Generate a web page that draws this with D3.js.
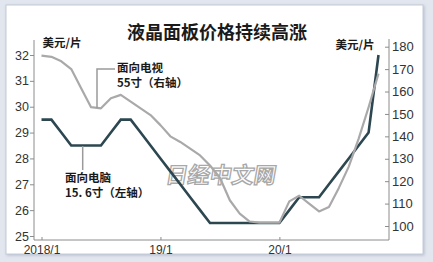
<!DOCTYPE html>
<html>
<head>
<meta charset="utf-8">
<script src="https://cdn.jsdelivr.net/npm/d3@7"></script>
<style>
  body { margin: 0; background: #e2e7ef; }
  svg { display: block; }
</style>
</head>
<body>
<div id="chart"></div>
<script>
// monthly categories
const months = [
  "2018/1","2018/2","2018/3","2018/4","2018/5","2018/6","2018/7","2018/8","2018/9","2018/10","2018/11","2018/12",
  "2019/1","2019/2","2019/3","2019/4","2019/5","2019/6","2019/7","2019/8","2019/9","2019/10","2019/11","2019/12",
  "2020/1","2020/2","2020/3","2020/4","2020/5","2020/6","2020/7","2020/8","2020/9","2020/10","2020/11"
];
// 15.6 inch notebook panel, USD (left axis)
const pcPanel = [
  29.5, 29.5, 29, 28.5, 28.5, 28.5, 28.5, 29, 29.5, 29.5, 29, 28.5,
  28, 27.5, 27, 26.5, 26, 25.5, 25.5, 25.5, 25.5, 25.5, 25.5, 25.5,
  25.5, 26, 26.5, 26.5, 26.5, 27, 27.5, 28, 28.5, 29, 32
];
// 55 inch TV panel, USD (right axis)
const tvPanel = [
  176, 175.5, 173.5, 170, 161.5, 153, 152.5, 157, 158.5, 155.5, 152.5, 149.5,
  145, 140, 137.5, 134.5, 131.5, 127, 121.5, 111.5, 105.5, 102, 101.5, 101.5,
  101.5, 111, 113.5, 110, 106.5, 108.5, 117, 126.5, 139, 153, 168
];
const leftTicks = [25, 26, 27, 28, 29, 30, 31, 32];
const rightTicks = [100, 110, 120, 130, 140, 150, 160, 170, 180];
const xTicks = ["2018/1", "2019/1", "2020/1"];
const xTickLabels = ["2018/1", "19/1", "20/1"];

let svgWidth = 433;
let svgHeight = 262;
const numFont = "'Liberation Sans', Arial, 'Noto Sans CJK SC', sans-serif";
const cjkFont = "'Noto Sans CJK SC', 'Liberation Sans', sans-serif";

let svg = d3.select("#chart")
  .append("svg")
  .attr("width", svgWidth)
  .attr("height", svgHeight);

// panel with soft shadow
let defs = svg.append("defs");
let f = defs.append("filter").attr("id", "shadow")
  .attr("x", "-5%").attr("y", "-5%").attr("width", "110%").attr("height", "110%");
f.append("feDropShadow").attr("dx", 1).attr("dy", 1).attr("stdDeviation", 1.5)
  .attr("flood-color", "#8a96aa").attr("flood-opacity", 0.5);

svg.append("rect")
  .attr("x", 6).attr("y", 5)
  .attr("width", 417).attr("height", 249)
  .attr("fill", "#ffffff")
  .attr("stroke", "#c4ccd8")
  .attr("filter", "url(#shadow)");

// scales
let x = d3.scalePoint().domain(months).range([41.5, 378.5]);
let yLeft = d3.scaleLinear().domain([25, 32]).range([236, 55]);
let yRight = d3.scaleLinear().domain([100, 180]).range([226, 46.7]);

const axisColor = "#8c8c8c";

// frame lines
svg.append("line").attr("x1", 34).attr("x2", 34).attr("y1", 40).attr("y2", 240)
  .attr("stroke", axisColor);
svg.append("line").attr("x1", 389).attr("x2", 389).attr("y1", 39).attr("y2", 240)
  .attr("stroke", axisColor);
svg.append("line").attr("x1", 34).attr("x2", 389).attr("y1", 240).attr("y2", 240)
  .attr("stroke", axisColor);

// axes
let leftAxis = d3.axisLeft(yLeft).tickValues(leftTicks).tickSize(4).tickPadding(1)
  .tickFormat(d3.format("d"));
let rightAxis = d3.axisRight(yRight).tickValues(rightTicks).tickSize(-4).tickPadding(3)
  .tickFormat(d3.format("d"));
let bottomAxis = d3.axisBottom(x).tickValues(xTicks).tickSize(-3).tickPadding(5.5)
  .tickFormat((d, i) => xTickLabels[i]);

function styleAxis(g, size) {
  g.select(".domain").remove();
  g.selectAll("line").attr("stroke", axisColor);
  g.selectAll("text")
    .attr("fill", "#333")
    .style("font-family", numFont)
    .style("font-size", size + "px");
}

svg.append("g").attr("transform", "translate(34,0)").call(leftAxis).call(styleAxis, 12.5);
svg.append("g").attr("transform", "translate(389,0)").call(rightAxis).call(styleAxis, 13);
svg.append("g").attr("transform", "translate(0,240)").call(bottomAxis).call(styleAxis, 12);

// watermark
svg.append("text")
  .attr("x", 220).attr("y", 183)
  .attr("text-anchor", "middle")
  .attr("transform", "translate(32,0) skewX(-10)")
  .attr("fill", "#ffffff")
  .attr("stroke", "#a8a8a8")
  .attr("stroke-width", 1.3)
  .style("font-family", cjkFont)
  .style("font-weight", "bold")
  .style("font-size", "22px")
  .text("日经中文网");

// lines
let pcLine = d3.line()
  .x((d, i) => x(months[i]))
  .y(d => yLeft(d));
let tvLine = d3.line()
  .x((d, i) => x(months[i]))
  .y(d => yRight(d));

svg.append("path")
  .datum(pcPanel)
  .attr("d", pcLine)
  .attr("fill", "none")
  .attr("stroke", "#2d4751")
  .attr("stroke-width", 2.6)
  .attr("stroke-linejoin", "miter");

svg.append("path")
  .datum(tvPanel)
  .attr("d", tvLine)
  .attr("fill", "none")
  .attr("stroke", "#a9a9a9")
  .attr("stroke-width", 2.2)
  .attr("stroke-linejoin", "round");

// leader lines
svg.append("polyline")
  .attr("points", "115,69 97,69 97,108")
  .attr("fill", "none").attr("stroke", "#9a9a9a").attr("stroke-width", 1.5);
svg.append("line")
  .attr("x1", 82.7).attr("x2", 82.7).attr("y1", 146).attr("y2", 170)
  .attr("stroke", "#9a9a9a").attr("stroke-width", 1.5);

// labels
function label(tx, ty, str, size, anchor, weight) {
  svg.append("text")
    .attr("x", tx).attr("y", ty)
    .attr("text-anchor", anchor || "start")
    .attr("fill", "#1a1a1a")
    .style("font-family", cjkFont)
    .style("font-weight", weight || "bold")
    .style("font-size", size + "px")
    .text(str);
}

label(217, 39, "液晶面板价格持续高涨", 18, "middle");
label(62, 47, "美元/片", 11.5, "middle");
label(355, 49, "美元/片", 11.5, "middle");
label(117, 72, "面向电视", 11.5);
label(117, 86.5, "55寸（右轴）", 11.5);
label(65, 182, "面向电脑", 11.5);
label(65, 196.5, "15. 6寸（左轴）", 11.5);
</script>
</body>
</html>
